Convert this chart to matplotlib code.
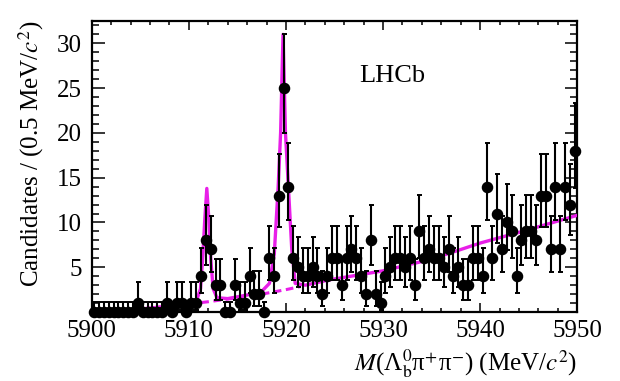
import math
import matplotlib
matplotlib.use('Agg')
import matplotlib.pyplot as plt
from matplotlib.ticker import MultipleLocator, FixedLocator

plt.rcParams['font.family'] = ['Liberation Serif', 'DejaVu Serif']
plt.rcParams['mathtext.fontset'] = 'stix'

# histogram: 100 bins of 0.5 MeV from 5900 to 5950
m_lo = 5900.0
bin_w = 0.5
counts = [0, 0, 0, 0, 0, 0, 0, 0, 0, 1,
          0, 0, 0, 0, 0, 1, 0, 1, 1, 0,
          1, 1, 4, 8, 7, 3, 3, 0, 0, 3,
          1, 1, 4, 2, 2, 0, 6, 4, 13, 25,
          14, 6, 5, 4, 4, 5, 4, 2, 4, 6,
          6, 3, 6, 7, 6, 4, 2, 8, 2, 1,
          4, 5, 6, 6, 5, 6, 3, 9, 6, 7,
          6, 6, 5, 7, 4, 5, 3, 3, 6, 6,
          4, 14, 6, 11, 7, 10, 9, 4, 8, 9,
          9, 8, 13, 13, 7, 14, 7, 14, 12, 18]

# total fit curve
fit_m = [5900, 5902, 5904, 5906, 5908, 5910, 5910.8, 5911.2, 5911.45, 5911.65,
         5911.85, 5912.05, 5912.25, 5912.5, 5912.9, 5914, 5916, 5917.5, 5918.3,
         5918.8, 5919.2, 5919.45, 5919.7, 5919.95, 5920.25, 5920.6, 5920.95,
         5922, 5924.5, 5930, 5935, 5940, 5945, 5950]
fit_y = [0, 0.05, 0.2, 0.45, 0.65, 0.9, 1.3, 2.6, 6.5, 10.5,
         13.8, 10.5, 6.0, 2.6, 1.6, 1.5, 1.9, 2.3, 3.2,
         6.5, 14, 20, 31, 20, 14, 7, 3.2,
         3.0, 3.6, 4.6, 5.9, 7.7, 9.2, 10.8]

# background component (dashed)
bkg_m = [5900, 5902, 5904, 5906, 5908, 5910, 5912, 5914, 5916, 5918, 5920, 5921.5]
bkg_y = [0, 0.05, 0.2, 0.45, 0.65, 0.9, 1.15, 1.45, 1.75, 2.1, 2.5, 2.85]

fit_color = '#e81ee8'


def pois_cdf(n, mu):
    term = math.exp(-mu)
    s = term
    for k in range(1, n + 1):
        term *= mu / k
        s += term
    return s


def bisect(f, lo, hi):
    for _ in range(60):
        mid = 0.5 * (lo + hi)
        if f(mid) > 0:
            lo = mid
        else:
            hi = mid
    return 0.5 * (lo + hi)


# Poisson (Garwood) error bars, as ROOT draws them
centers, err_lo, err_hi = [], [], []
for i, n in enumerate(counts):
    centers.append(m_lo + (i + 0.5) * bin_w)
    if n == 0:
        err_lo.append(0.0)
        err_hi.append(1.15)
        continue
    up = bisect(lambda mu: pois_cdf(n, mu) - 0.1587, 0, n + 50)
    dn = bisect(lambda mu: pois_cdf(n - 1, mu) - 0.8413, 0, n + 50)
    err_lo.append(n - dn)
    err_hi.append(up - n)

fig = plt.figure(figsize=(6.2, 3.81), dpi=100)
ax = fig.add_axes([0.148, 0.181, 0.783, 0.764])

ax.plot(bkg_m, bkg_y, color=fit_color, lw=2.2, ls=(0, (2.5, 1.5)), zorder=2)
ax.plot(fit_m, fit_y, color=fit_color, lw=2.4, zorder=3)
eb = ax.errorbar(centers, counts, yerr=[err_lo, err_hi], fmt='o', color='black',
                 ms=7.3, elinewidth=1.5, capsize=1.8, capthick=1.4, zorder=4)
for art in eb.get_children():
    art.set_clip_on(False)

ax.set_xlim(5900, 5950)
ax.set_ylim(0, 32.5)

ax.xaxis.set_major_locator(MultipleLocator(10))
ax.xaxis.set_minor_locator(MultipleLocator(2))
ax.yaxis.set_major_locator(FixedLocator([5, 10, 15, 20, 25, 30]))
ax.yaxis.set_minor_locator(MultipleLocator(1))

for s in ax.spines.values():
    s.set_linewidth(1.6)
ax.tick_params(axis='both', which='both', direction='in', top=True, right=True,
               width=1.1, labelsize=18)
ax.tick_params(axis='x', which='major', length=6.5, pad=6)
ax.tick_params(axis='x', which='minor', length=3.2)
ax.tick_params(axis='y', which='major', length=9, pad=7)
ax.tick_params(axis='y', which='minor', length=5)

ax.set_ylabel(r'Candidates / (0.5 MeV/$c^{2}$)', fontsize=18, loc='top', labelpad=8)
ax.set_xlabel(r'$M$(Λ$_{\rm b}^{0}$π$^{+}$π$^{-}$) (MeV/$c^{2}$)',
              fontsize=18, loc='right', labelpad=4)

ax.text(0.55, 0.81, 'LHCb', transform=ax.transAxes, fontsize=19,
        ha='left', va='center')

fig.savefig('out.png', dpi=100)
